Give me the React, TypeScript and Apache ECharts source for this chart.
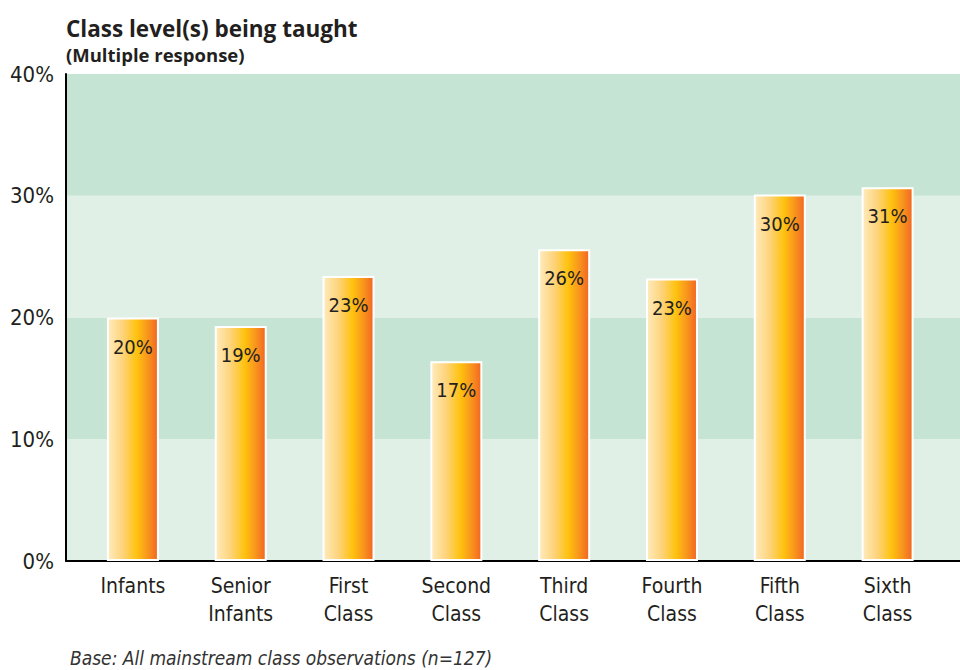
import React, { useEffect, useRef } from "react";
import * as echarts from "echarts";

const categories = [
  "Infants",
  "Senior\nInfants",
  "First\nClass",
  "Second\nClass",
  "Third\nClass",
  "Fourth\nClass",
  "Fifth\nClass",
  "Sixth\nClass",
];
const values = [20.0, 19.3, 23.4, 16.4, 25.6, 23.2, 30.1, 30.7];
const valueLabels = ["20%", "19%", "23%", "17%", "26%", "23%", "30%", "31%"];
const yTicks = { min: 0, max: 40, interval: 10 };
const titleText = "Class level(s) being taught";
const subtitleText = "(Multiple response)";
const footnote = "Base: All mainstream class observations (n=127)";

const condensed = "'Liberation Sans Narrow', 'DejaVu Sans Condensed', 'Roboto', sans-serif";
const boldFont = "'Open Sans', 'Noto Sans', sans-serif";

export default function App() {
  const ref = useRef<HTMLDivElement>(null);
  useEffect(() => {
    if (!ref.current) return;
    const chart = echarts.init(ref.current, null, { renderer: "svg" });
    const barGradient = new echarts.graphic.LinearGradient(0, 0, 1, 0, [
      { offset: 0, color: "#ffebbd" },
      { offset: 0.3, color: "#fdd37a" },
      { offset: 0.58, color: "#ffc20e" },
      { offset: 0.8, color: "#f8951d" },
      { offset: 1, color: "#f26522" },
    ]);
    chart.setOption({
      animation: false,
      backgroundColor: "#ffffff",
      title: [
        {
          text: titleText,
          left: 61,
          top: 12,
          textStyle: { fontFamily: boldFont, fontWeight: "bold", fontSize: 22.5, color: "#231f20" },
        },
        {
          text: subtitleText,
          left: 61,
          top: 40,
          textStyle: { fontFamily: boldFont, fontWeight: "bold", fontSize: 18.5, color: "#231f20" },
        },
      ],
      graphic: [
        {
          type: "text",
          left: 70,
          top: 648,
          style: {
            text: footnote,
            font: `italic 19px ${condensed}`,
            fill: "#333333",
          },
        },
      ],
      grid: [
        { left: 66, right: 0, top: 74, bottom: 109 },
        { left: 79, right: 18.5, top: 74, bottom: 109 },
      ],
      xAxis: [
        {
          type: "category",
          gridIndex: 0,
          data: categories,
          axisLine: { show: true, lineStyle: { color: "#000", width: 2 } },
          axisTick: { show: false },
          axisLabel: { show: false },
        },
        {
          type: "category",
          gridIndex: 1,
          data: categories,
          axisLine: { show: false },
          axisTick: { show: false },
          axisLabel: {
            color: "#231f20",
            fontFamily: condensed,
            fontSize: 21,
            lineHeight: 28,
            margin: 11,
            interval: 0,
          },
        },
      ],
      yAxis: [
        {
          type: "value",
          gridIndex: 0,
          min: yTicks.min,
          max: yTicks.max,
          interval: yTicks.interval,
          axisLine: { show: true, lineStyle: { color: "#000", width: 2 } },
          axisTick: { show: false },
          splitLine: { show: false },
          splitArea: { show: true, areaStyle: { color: ["#e1f0e7", "#c5e4d3"] } },
          axisLabel: {
            formatter: "{value}%",
            color: "#231f20",
            fontFamily: condensed,
            fontSize: 22,
            margin: 12,
          },
        },
        {
          type: "value",
          gridIndex: 1,
          min: yTicks.min,
          max: yTicks.max,
          interval: yTicks.interval,
          show: false,
          splitLine: { show: false },
        },
      ],
      series: [
        {
          type: "bar",
          xAxisIndex: 1,
          yAxisIndex: 1,
          data: values,
          barWidth: 52,
          itemStyle: { color: barGradient, borderColor: "#ffffff", borderWidth: 2 },
          label: {
            show: true,
            position: "insideTop",
            distance: 19,
            formatter: (p: any) => valueLabels[p.dataIndex],
            color: "#231f20",
            fontFamily: condensed,
            fontSize: 20,
          },
        },
      ],
    });
    return () => chart.dispose();
  }, []);
  return <div ref={ref} style={{ width: 960, height: 670, position: "absolute", left: 0, top: 0 }} />;
}
